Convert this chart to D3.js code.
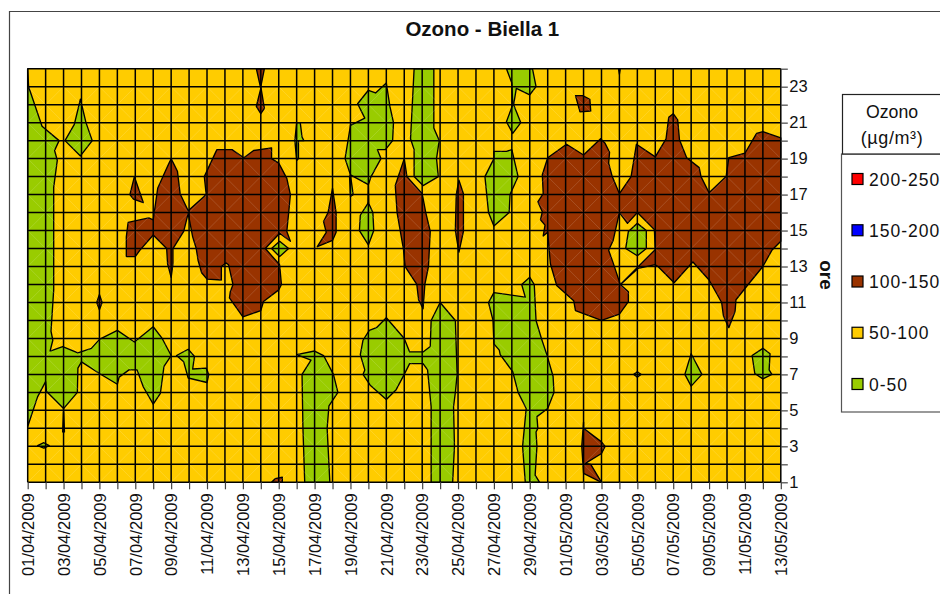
<!DOCTYPE html>
<html><head><meta charset="utf-8">
<script src="https://cdn.jsdelivr.net/npm/d3@7"></script>
<style>html,body{margin:0;padding:0;background:#fff;overflow:hidden}text{font-family:"Liberation Sans",Arial,sans-serif;fill:#111}</style>
</head><body><svg id="c" width="940" height="594"></svg>
<script>
const chartTitle="Ozono - Biella 1";
const yAxisTitle="ore";
const startDate=new Date(2009,3,1);
const dayCount=42;
const hourTicks=d3.range(1,25);
const legendTitle=["Ozono","(µg/m³)"];
const bandLabels=["200-250","150-200","100-150","50-100","0-50"];
const bandColors=["#FF0000","#0000FF","#993300","#FFCC00","#99CC00"];
const G="#99CC00",B="#993300",Y="#FFCC00";

// contour outlines, each vertex is [day index since 01/04/2009, hour]
const greenLeft=[[0,24],[.05,23],[.8,20.8],[1.75,20],[1.5,19.45],[1.65,18.9],[1.45,17.4],[1.45,14.85],[1.45,11.7],[1.3,9.4],[1.4,8.9],[1.25,8.3],[1.95,8.55],[2.8,8.2],[3.55,8.45],[4,8.95],[5,9.45],[5.95,8.8],[7,9.65],[7.5,9],[8,8.05],[7.6,7.45],[7.4,5.95],[7,5.35],[6.45,6.3],[6.1,7.25],[5.65,7.25],[5.1,6.85],[5,6.45],[4,7.05],[3,7.7],[2.8,7.35],[2.77,6],[2,5.1],[1.05,6.05],[1,6.6],[.55,5.75],[0,4.1]];
const greenSpur=[[2,5.1],[2.05,3.8],[1.95,3.8]];
const greenA=[[8.3,8.05],[8.95,8.4],[9.3,8],[9.2,7.3],[9.95,7.35],[10.1,7],[10,6.55],[8.95,6.8],[8.7,7.7]];
const greenB=[[.55,3.04],[.9,3.2],[1.2,3.04],[.9,2.9]];
const greenC=[[2.94,22.3],[3.25,21],[3.6,20],[2.94,19.15],[2.08,20],[2.6,20.9]];
const greenD=[[13.6,14],[14.05,14.4],[14.55,14],[14.05,13.55]];
const greenE=[[15,21],[15.2,21],[15.3,20.2],[15.4,20],[15.1,20],[15.1,19],[15,18.9],[14.9,20]];
const greenF=[[20,23.2],[20.2,21.9],[20.4,21],[20.35,20],[19.95,19.5],[19.5,19.5],[19.7,19],[19.15,18],[19,17.55],[18,18.1],[17.7,19],[18,20.85],[18.8,21.25],[18.4,22.05],[19,22.8],[19.4,22.65]];
const greenFspur=[[18,18.1],[18.15,17],[18,16.9],[17.95,18]];
const greenG=[[19,16.55],[19.25,16],[19.3,15],[19,14.2],[18.5,15],[18.55,15.85]];
const greenGspur=[[19,17.55],[19.02,16.55],[18.98,16.55]];
const greenH=[[21.55,24],[22.65,24],[22.65,20.7],[22.95,20],[22.8,19],[22.9,18],[22.05,17.5],[21.55,18],[21.55,19.5],[21.35,20.1],[21.5,23]];
const greenI=[[26.7,24],[28.15,24],[28.35,23],[28,22.55],[27.25,22.9],[27.1,22],[27.5,21],[27.05,20.4],[26.7,21.05],[27.05,22],[27,23.2]];
const greenJ=[[26,19.4],[26.7,19.4],[27,19.5],[27.35,18],[26.9,17],[26.85,16],[26,15.25],[25.7,16],[25.5,18],[26,19]];
const greenK=[[28,12.4],[28.25,12],[28.3,11],[28.35,10],[28.65,9],[28.95,8.1],[29.3,6.9],[29.35,6],[29,5.1],[28.4,4.65],[28.45,4],[28.35,3.8],[28.4,3],[28.3,1.4],[28.55,1],[27.75,1],[27.6,3],[27.8,5.1],[27.35,6],[27.05,7.15],[26.35,8.1],[26.3,8.35],[26,8.7],[25.95,10],[25.7,11],[26,11.55],[27.75,11.3],[27.55,12]];
const greenL=[[15,8.1],[16,8.3],[16.5,8.05],[17.05,7],[17.3,6],[16.8,5.25],[16.7,4],[16.85,1],[15.45,1],[15.35,4],[15.3,7],[15.8,7.8]];
const greenM=[[20,10.15],[21,9],[21.3,8.25],[22.05,8.25],[22.45,8.55],[22.5,10],[23,11],[23.85,10],[23.95,7],[23.85,6],[23.75,5.2],[23.8,3],[23.7,1],[22.5,1],[22.5,5.2],[22.3,7.25],[22.05,7.6],[21.3,7.6],[21,7],[20.55,6.15],[20,5.6],[19.1,6.4],[18.7,7],[18.8,7.25],[18.55,8.1],[18.7,8.9],[19.05,9.45],[19.45,9.6]];
const greenN=[[37,8.15],[37.6,7],[37,6.35],[36.65,7]];
const greenO=[[41,8.45],[41.4,8.15],[41.35,7.25],[41.5,7],[41,6.75],[40.55,7.05],[40.4,8.05]];
const greenP=[[33.8,7],[34,7.15],[34.2,7],[34,6.85]];
const brownBigA=[[5.6,15.45],[6.75,15.7],[7,15.6],[7.25,17.35],[7.7,18.35],[8,19],[8.35,18.3],[8.5,17.05],[8.95,16.1],[9.85,16.9],[9.95,17.05],[9.85,18],[10.55,19.5],[11.4,19.5],[12.05,19.05],[12.6,19.45],[13.6,19.6],[13.6,19],[14,18.75],[14.45,17.9],[14.65,17],[14.55,15.95],[14.45,14.95],[14.65,14.4],[14.05,14.85],[13.25,14],[14.05,13.1],[14.15,12],[14,11.7],[13.15,11.05],[13,10.55],[12,10.2],[11.25,11.25],[11.3,11.6],[11.45,12],[11.2,13.1],[11.05,13.2],[10.8,13],[10.8,12.25],[10,12.3],[9.7,12.65],[9.5,13.35],[9.4,14],[9.2,14.65],[8.95,15.95],[8.7,14.95],[8.1,14],[8.1,13.15],[8,12.4],[7.8,13.15],[7.75,14],[7,14.75],[6.25,13.9],[6,13.55],[5.5,13.55],[5.5,14.65]];
const brownA=[[5.95,18],[6.45,16.55],[5.9,16.75],[5.7,17]];
const brownB=[[4,11.45],[4.15,11],[4,10.6],[3.85,11]];
const brownC=[[13.6,1],[13.8,1.2],[14.2,1.28],[14.2,1]];
const brownD=[[12.75,24],[13.2,24],[13,23],[13.2,21.8],[13,21.5],[12.75,21.9],[13,22.9]];
const brownE=[[17,17.35],[17.2,16],[17.2,14.9],[17,14.45],[16.15,14.1],[16.65,14.9],[16.5,15.5],[16.75,16]];
const brownF=[[21,19],[21.15,18],[22,17.05],[22.2,16],[22.45,14.95],[22.35,13],[22.15,12],[22.05,10.65],[21.8,11.15],[21.7,12],[21.05,13],[20.95,14],[20.6,16],[20.5,17.5]];
const brownG=[[24.05,17.8],[24.3,17.05],[24.3,14.95],[24.05,13.8],[23.85,15],[23.9,17]];
const brownH=[[30.55,22.5],[30.95,22.5],[31.35,22.3],[31.4,21.65],[30.8,21.6]];
const brownBigB=[[29,19.05],[30.05,19.8],[31,19.2],[31.95,20.1],[32.2,19.85],[32.45,19.35],[32.4,18.75],[32.6,18],[33,17.05],[33.65,18],[33.95,19.8],[35,19.1],[35.6,20.1],[35.75,21.3],[36,21.5],[36.25,21.15],[36.35,20.05],[36.75,19.05],[37.45,18.5],[37.55,18],[38,17.1],[38.95,18],[39.1,19.05],[40,19.3],[40.65,20.4],[41,20.5],[42,20.15],[42,14.4],[41.5,13.9],[41,13],[40.1,11.9],[39.5,11.15],[39.45,10.5],[39.1,9.6],[38.8,10.25],[38.7,11],[38,12.25],[37.1,13.25],[37,13.15],[36.05,12.1],[35.15,13],[35,13.1],[34.05,12.9],[33.05,12],[33.5,11.6],[33.5,11.05],[33,10.35],[32,10],[30.55,10.55],[30.45,11.1],[29.5,11.95],[29.15,13.15],[29,14.9],[28.75,14.7],[28.85,15.3],[28.6,15.6],[28.7,16.05],[28.45,16.6],[28.75,17.05],[28.7,18.1]];
const yellowHole=[[33,16],[33.45,15.4],[34,16],[34.95,15.05],[35,13.95],[34.05,13],[33.05,12],[32.65,13.2],[32.4,13.9],[32.65,14.45]];
const greenQ=[[34,15.4],[34.5,15],[34.5,14],[34,13.6],[33.35,14],[33.5,14.95]];
const brownI=[[31,4.35],[31,4],[32,3.25],[32.2,3],[32,2.6],[31.1,2.05],[31.4,2],[32,1],[31,1.5],[30.9,3]];
const brownJ=[[32.95,24],[33.05,24],[33,23.7]];
const contourLayers=[
 [G,greenLeft],[G,greenSpur],[G,greenA],[G,greenB],[G,greenC],[G,greenD],[G,greenE],[G,greenF],[G,greenFspur],[G,greenG],[G,greenGspur],[G,greenH],[G,greenI],[G,greenJ],[G,greenK],[G,greenL],[G,greenM],[G,greenN],[G,greenO],[G,greenP],
 [B,brownBigA],[B,brownA],[B,brownB],[B,brownC],[B,brownD],[B,brownE],[B,brownF],[B,brownG],[B,brownH],[B,brownBigB],[B,brownI],[B,brownJ],
 [Y,yellowHole],[G,greenQ]
];

const svg=d3.select("#c");
const x=d3.scaleLinear().domain([0,dayCount]).range([27.7,780.8]);
const y=d3.scaleLinear().domain([1,24]).range([482.3,68.7]);
const fmt=d3.timeFormat("%d/%m/%Y");
const days=d3.range(0,dayCount+1);

svg.append("path").attr("d",d3.line()([[9.5,594],[9.5,11.5],[940,11.5]])).attr("fill","none").attr("stroke","#444").attr("stroke-width",1.2);

svg.append("text").attr("x",482.3).attr("y",36).attr("text-anchor","middle").attr("font-size",20.5).attr("font-weight","bold").text(chartTitle);

svg.append("rect").attr("x",x(0)).attr("y",y(24)).attr("width",x(dayCount)-x(0)).attr("height",y(1)-y(24)).attr("fill",Y);
const line=d3.line().x(d=>x(d[0])).y(d=>y(d[1])).curve(d3.curveLinearClosed);
svg.append("g").selectAll("path").data(contourLayers).join("path")
 .attr("d",d=>line(d[1])).attr("fill",d=>d[0]).attr("stroke","#000").attr("stroke-width",1.35).attr("stroke-linejoin","round");

const mesh=svg.append("g").attr("stroke","#fff").attr("stroke-opacity",.2).attr("stroke-width",.7).attr("fill","none");
const evenDays=days.filter(d=>d%2===0);
const evenHours=hourTicks.filter(h=>h%2===1);
evenDays.slice(0,-1).forEach(d=>evenHours.slice(0,-1).forEach(h=>{
 mesh.append("path").attr("d",d3.line()([[x(d),y(h)],[x(d+2),y(Math.min(h+2,24))]]));
 mesh.append("path").attr("d",d3.line()([[x(d),y(Math.min(h+2,24))],[x(d+2),y(h)]]));
}));

const grid=svg.append("g").attr("stroke","#000").attr("stroke-width",1.5);
grid.selectAll(".v").data(days).join("line").attr("class","v").attr("x1",d=>x(d)).attr("x2",d=>x(d)).attr("y1",y(24)).attr("y2",y(1));
grid.selectAll(".h").data(hourTicks).join("line").attr("class","h").attr("y1",d=>y(d)).attr("y2",d=>y(d)).attr("x1",x(0)).attr("x2",x(dayCount));

const xAxis=d3.axisBottom(x).tickValues(days).tickSize(7).tickPadding(0).tickFormat(d=>d%2?"":fmt(d3.timeDay.offset(startDate,d)));
const gx=svg.append("g").attr("transform",`translate(0,${y(1)})`).call(xAxis);
gx.select(".domain").remove();
gx.selectAll("line").attr("stroke","#444").attr("stroke-width",1.2);
gx.selectAll("text").attr("transform","rotate(-90)").attr("x",-11).attr("y",0).attr("dy","0.35em").attr("text-anchor","end").attr("font-size",16.5).attr("font-family",null);

const yAxis=d3.axisRight(y).tickValues(hourTicks).tickSize(7).tickPadding(1.5).tickFormat(d=>d%2?d:"");
const gy=svg.append("g").attr("transform",`translate(${x(dayCount)},0)`).call(yAxis);
gy.select(".domain").remove();
gy.selectAll("line").attr("stroke","#444").attr("stroke-width",1.2);
gy.selectAll("text").attr("font-size",16.5).attr("font-family",null);

svg.append("text").attr("transform","translate(820,275) rotate(90)").attr("text-anchor","middle").attr("font-size",19).attr("font-weight","bold").text(yAxisTitle);

svg.append("rect").attr("x",841.5).attr("y",154).attr("width",120).attr("height",258).attr("fill","#fff").attr("stroke","#555").attr("stroke-width",1.2);
svg.append("rect").attr("x",842.5).attr("y",94.5).attr("width",120).attr("height",59.5).attr("fill","#fff").attr("stroke","#222").attr("stroke-width",1.2);
svg.selectAll(".lt").data(legendTitle).join("text").attr("class","lt").attr("x",892).attr("y",(d,i)=>118+i*26).attr("text-anchor","middle").attr("font-size",(d,i)=>i?18:17.7).attr("letter-spacing",(d,i)=>i?.6:0).text(d=>d);
const legendY=d3.scalePoint().domain(bandLabels).range([179,384]);
const li=svg.selectAll(".li").data(bandLabels).join("g").attr("class","li").attr("transform",d=>`translate(0,${legendY(d)})`);
li.append("rect").attr("x",852).attr("y",-5.5).attr("width",11).attr("height",11).attr("fill",(d,i)=>bandColors[i]).attr("stroke","#000").attr("stroke-width",1.2);
li.append("text").attr("x",869).attr("y",6.5).attr("font-size",17.5).attr("letter-spacing",1).text(d=>d);
</script></body></html>
